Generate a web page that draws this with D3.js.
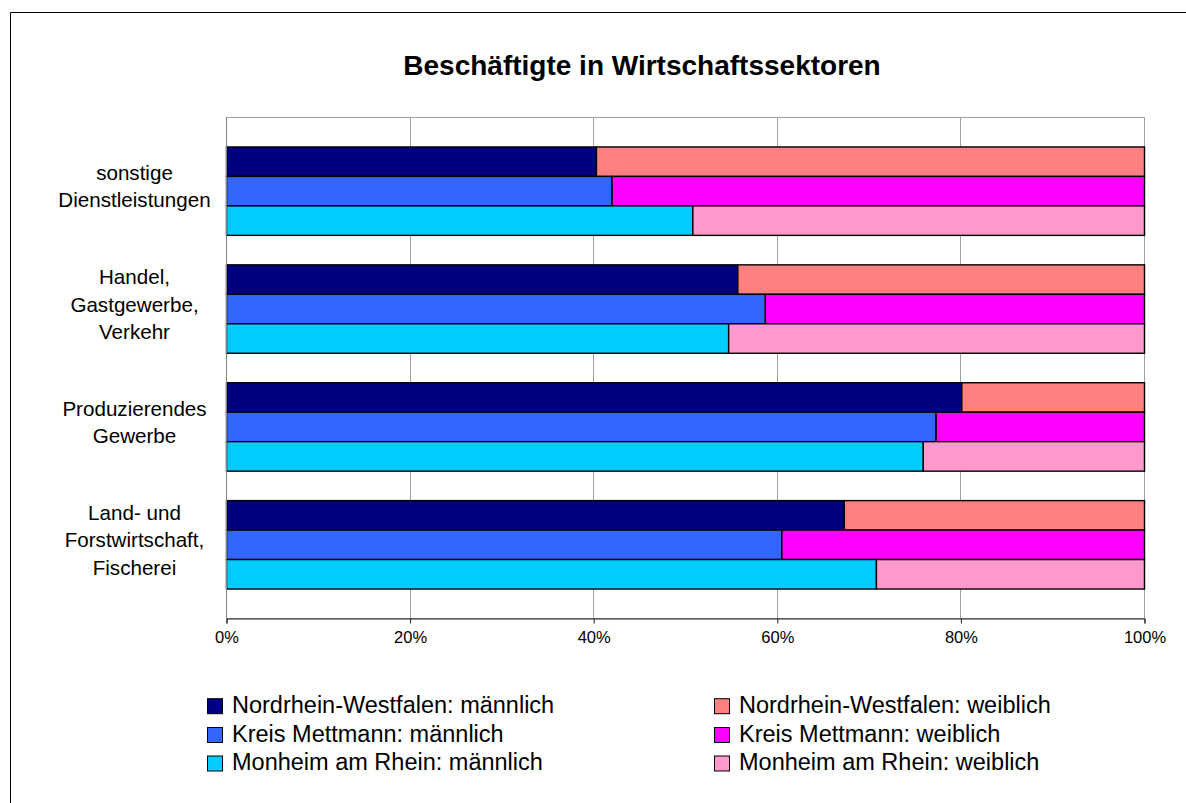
<!DOCTYPE html>
<html>
<head>
<meta charset="utf-8">
<script src="https://cdn.jsdelivr.net/npm/d3@7"></script>
<style>
  html, body { margin: 0; padding: 0; background: #fff; overflow: hidden; }
  svg { display: block; font-family: "Liberation Sans", Arial, sans-serif; overflow: hidden; }
</style>
</head>
<body>
<svg id="chart" width="1186" height="803"></svg>
<script>
// ---- Data ----
const title = "Beschäftigte in Wirtschaftssektoren";
const categories = ["sonstige Dienstleistungen", "Handel, Gastgewerbe, Verkehr", "Produzierendes Gewerbe", "Land- und Forstwirtschaft, Fischerei"];
const categoryLines = [["sonstige", "Dienstleistungen"], ["Handel,", "Gastgewerbe,", "Verkehr"], ["Produzierendes", "Gewerbe"], ["Land- und", "Forstwirtschaft,", "Fischerei"]];
const regions = ["Nordrhein-Westfalen", "Kreis Mettmann", "Monheim am Rhein"];
const maleNRW       = [40.3, 55.7, 80.1, 67.3];
const femaleNRW     = [59.7, 44.3, 19.9, 32.7];
const maleMettmann  = [42.0, 58.7, 77.3, 60.5];
const femaleMettmann= [58.0, 41.3, 22.7, 39.5];
const maleMonheim   = [50.8, 54.7, 75.9, 70.8];
const femaleMonheim = [49.2, 45.3, 24.1, 29.2];
const tickValues = [0, 0.2, 0.4, 0.6, 0.8, 1.0];
const legendLabels = [
  "Nordrhein-Westfalen: männlich", "Nordrhein-Westfalen: weiblich",
  "Kreis Mettmann: männlich", "Kreis Mettmann: weiblich",
  "Monheim am Rhein: männlich", "Monheim am Rhein: weiblich"
];

// ---- Styles ----
const maleColors = ["#000080", "#3366FF", "#00CCFF"];
const femaleColors = ["#FF8080", "#FF00FF", "#FF99CC"];

const male = [maleNRW, maleMettmann, maleMonheim];
const female = [femaleNRW, femaleMettmann, femaleMonheim];

const svg = d3.select("#chart");

// outer border (only top and left edges visible in the frame)
svg.append("path").attr("d", "M10.5,803V12.5H1186")
  .attr("fill", "none").attr("stroke", "#000").attr("stroke-width", 1);

const plot = { left: 226, right: 1144, top: 117, bottom: 618 };

const x = d3.scaleLinear().domain([0, 1]).range([plot.left, plot.right]);
const y = d3.scaleBand().domain(categories).range([plot.top, plot.bottom])
  .paddingInner(0.25).paddingOuter(0.25);
const yInner = d3.scaleBand().domain(regions).range([0, y.bandwidth()]);

// plot area border (gray)
svg.append("rect").attr("x", plot.left + 0.5).attr("y", plot.top + 0.5)
  .attr("width", plot.right - plot.left).attr("height", plot.bottom - plot.top)
  .attr("fill", "#fff").attr("stroke", "#a0a0a0");

// gridlines
svg.append("g").selectAll("line").data(tickValues.slice(1, -1)).join("line")
  .attr("x1", d => Math.round(x(d)) + 0.5).attr("x2", d => Math.round(x(d)) + 0.5)
  .attr("y1", plot.top).attr("y2", plot.bottom)
  .attr("stroke", "#a0a0a0").attr("stroke-width", 1);

// bars
const barData = [];
categories.forEach((c, ci) => {
  regions.forEach((r, ri) => {
    const m = male[ri][ci], f = female[ri][ci];
    const share = m / (m + f);
    barData.push({ c, r, x0: 0, x1: share, color: maleColors[ri] });
    barData.push({ c, r, x0: share, x1: 1, color: femaleColors[ri] });
  });
});
svg.append("g").selectAll("rect").data(barData).join("rect")
  .attr("x", d => x(d.x0) + 0.5)
  .attr("y", d => y(d.c) + yInner(d.r) + 0.5)
  .attr("width", d => x(d.x1) - x(d.x0))
  .attr("height", yInner.bandwidth())
  .attr("fill", d => d.color)
  .attr("stroke", "#000").attr("stroke-width", 1.4);

// x axis
const xAxis = d3.axisBottom(x).tickValues(tickValues).tickFormat(d3.format(".0%"))
  .tickSize(5).tickPadding(8);
const gx = svg.append("g").attr("transform", `translate(0.5,${plot.bottom + 0.5})`).call(xAxis);
gx.select(".domain").attr("stroke", "#222");
gx.selectAll(".tick line").attr("stroke", "#222");
gx.selectAll(".tick text").attr("font-size", "16.5px").attr("fill", "#000")
  .attr("font-family", "Liberation Sans, Arial, sans-serif");

// left axis line
svg.append("line").attr("x1", plot.left + 0.5).attr("x2", plot.left + 0.5)
  .attr("y1", plot.top).attr("y2", plot.bottom).attr("stroke", "#808080");

// category labels
const lineH = 27.4;
const labelG = svg.append("g");
categories.forEach((c, ci) => {
  const lines = categoryLines[ci];
  const cy = y(c) + y.bandwidth() / 2;
  const t = labelG.append("text").attr("text-anchor", "middle").attr("font-size", "20.6px").attr("fill", "#000");
  lines.forEach((ln, i) => {
    t.append("tspan").attr("x", 134.5)
      .attr("y", cy + (i - (lines.length - 1) / 2) * lineH + 3)
      .text(ln);
  });
});

// title
svg.append("text").attr("x", 642).attr("y", 75).attr("text-anchor", "middle")
  .attr("font-size", "28px").attr("font-weight", "bold").text(title);

// legend
const legendCols = [{ sx: 207, tx: 232 }, { sx: 714, tx: 739 }];
const legendRows = [712.7, 741.5, 770];
const legendColors = [maleColors[0], femaleColors[0], maleColors[1], femaleColors[1], maleColors[2], femaleColors[2]];
const lg = svg.append("g");
legendLabels.forEach((lab, i) => {
  const col = legendCols[i % 2];
  const by = legendRows[Math.floor(i / 2)];
  lg.append("rect").attr("x", col.sx + 0.5).attr("y", by - 14.5 + 0.5).attr("width", 15).attr("height", 15)
    .attr("fill", legendColors[i]).attr("stroke", "#000");
  lg.append("text").attr("x", col.tx).attr("y", by).attr("font-size", "23.5px").attr("fill", "#000").text(lab);
});
</script>
</body>
</html>
